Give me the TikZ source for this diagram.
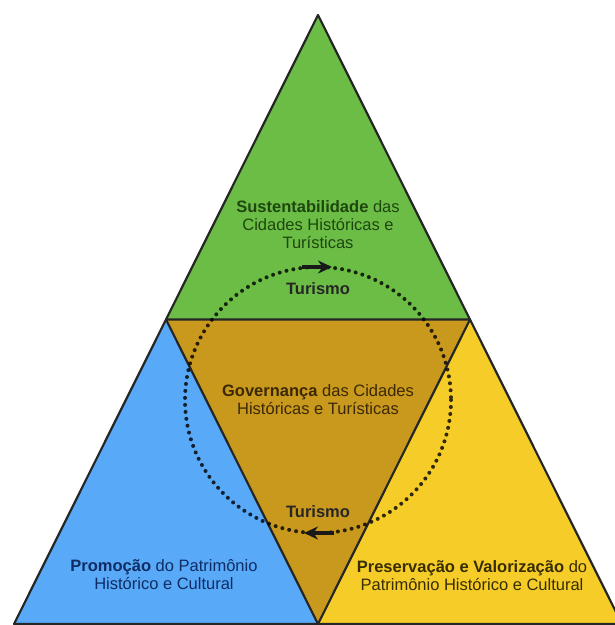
\documentclass[tikz,border=0pt]{standalone}
\usepackage{fontspec}
\setmainfont{Liberation Sans}
\usetikzlibrary{arrows.meta,calc}

\definecolor{sustGreen}{RGB}{108,189,69}
\definecolor{govGold}{RGB}{201,153,30}
\definecolor{promBlue}{RGB}{88,169,247}
\definecolor{presYellow}{RGB}{246,205,40}
\definecolor{sustText}{RGB}{30,70,15}
\definecolor{govText}{RGB}{60,40,5}
\definecolor{promText}{RGB}{15,45,100}
\definecolor{presText}{RGB}{55,45,0}

\begin{document}
\begin{tikzpicture}[x=1pt,y=-1pt]
\tikzstyle{face}=[draw=black!85,line width=2.2pt,line join=round]
\tikzstyle{label}=[align=center,inner sep=0pt,font=\fontsize{16.5}{18}\selectfont]
\tikzstyle{cycle}=[draw=black,draw opacity=0.8,line width=4pt,line cap=round,dash pattern=on 0pt off 7pt]
\tikzstyle{flow}=[-{Stealth[length=14pt,width=13pt]},line width=3.2pt,black!90]

\useasboundingbox (0,0) rectangle (615,625);
\clip (0,0) rectangle (615,625);

\coordinate (apex) at (318,15);
\coordinate (left) at (14,624);
\coordinate (right) at (622,624);
\coordinate (bottom) at (318,624);
\coordinate (midL) at ($(apex)!0.5!(left)$);
\coordinate (midR) at ($(apex)!0.5!(right)$);

\fill[presYellow] (midR) -- (right) -- (bottom) -- cycle;
\fill[promBlue] (midL) -- (bottom) -- (left) -- cycle;
\fill[sustGreen] (apex) -- (midR) -- (midL) -- cycle;
\fill[govGold] (midL) -- (midR) -- (bottom) -- cycle;

\draw[face] (apex) -- (right) -- (left) -- cycle;
\draw[face] (midL) -- (midR) -- (bottom) -- cycle;

% ciclo do turismo
\coordinate (center) at (318,400);
\draw[cycle] (center) circle (133);
\coordinate (topA) at (302,267);
\coordinate (topB) at (332,267);
\coordinate (botA) at (334,533);
\coordinate (botB) at (304,533);
\draw[flow] (topA) -- (topB);
\draw[flow] (botA) -- (botB);

\node[label,text=sustText] (sust) at (318,225) {\textbf{Sustentabilidade} das\\Cidades Históricas e\\Turísticas};
\node[label,text=black!85] (turTop) at (318,289) {\textbf{Turismo}};
\node[label,text=govText] (gov) at (318,400) {\textbf{Governança} das Cidades\\Históricas e Turísticas};
\node[label,text=black!85] (turBot) at (318,512) {\textbf{Turismo}};
\node[label,text=promText] (prom) at (164,575) {\textbf{Promoção} do Patrimônio\\Histórico e Cultural};
\node[label,text=presText] (pres) at (472,576) {\textbf{Preservação e Valorização} do\\Patrimônio Histórico e Cultural};

\end{tikzpicture}
\end{document}
